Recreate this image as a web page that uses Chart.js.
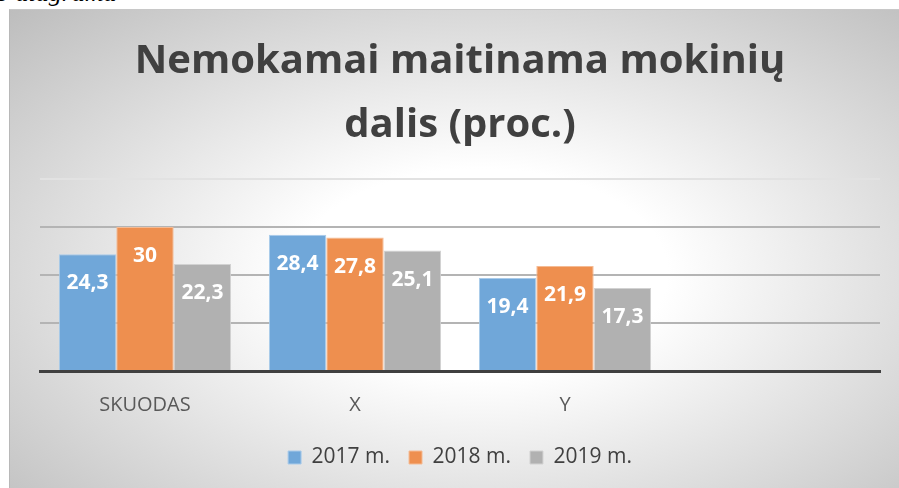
<!DOCTYPE html>
<html>
<head>
<meta charset="utf-8">
<script src="https://cdn.jsdelivr.net/npm/chart.js@4"></script>
<style>
	body { margin: 0; background: #fff; width: 899px; height: 488px; overflow: hidden; position: relative; }
	#caption { position: absolute; left: -4px; top: -22px; font: italic 26px "Liberation Serif", serif; color: #000; }
	#box {
		position: absolute; left: 9px; top: 9px; width: 890px; height: 479px;
		border-left: 1px solid #b8b8b8; border-top: 1px solid #c8c8c8; box-sizing: border-box;
		background: radial-gradient(ellipse farthest-corner at 53% 55%, #ffffff 0%, #ffffff 28%, #bdbdbd 100%);
	}
</style>
</head>
<body>
<div id="caption">o diagrama</div>
<div id="box"><canvas id="myChart"></canvas></div>
<script>
// DATA
const categories = ["SKUODAS", "X", "Y", ""];
const years = ["2017 m.", "2018 m.", "2019 m."];
const values2017 = [24.3, 28.4, 19.4, null];
const values2018 = [30, 27.8, 21.9, null];
const values2019 = [22.3, 25.1, 17.3, null];
const yTicks = [0, 10, 20, 30, 40];

// value labels inside the top of each bar
const barLabels = {
	id: "barLabels",
	afterDatasetsDraw(chart) {
		const ctx = chart.ctx;
		ctx.save();
		ctx.fillStyle = "#ffffff";
		ctx.font = "bold 21px 'Open Sans'";
		ctx.textAlign = "center";
		ctx.textBaseline = "middle";
		chart.data.datasets.forEach((ds, i) => {
			chart.getDatasetMeta(i).data.forEach((bar, j) => {
				const v = ds.data[j];
				if (v == null) return;
				ctx.fillText(String(v).replace(".", ","), bar.x, bar.y + 29);
			});
		});
		ctx.restore();
	},
};

const data = {
	labels: categories,
	datasets: [
		{ label: years[0], data: values2017, backgroundColor: "#70a7d9", borderColor: "#a9cbea" },
		{ label: years[1], data: values2018, backgroundColor: "#ee8f4f", borderColor: "#f5bb94" },
		{ label: years[2], data: values2019, backgroundColor: "#b1b1b1", borderColor: "#d2d2d2" },
	],
};

const config = {
	type: "bar",
	data: data,
	options: {
		responsive: true,
		maintainAspectRatio: false,
		animation: false,
		layout: { padding: { left: 30, right: 19, top: 0, bottom: 10 } },
		datasets: {
			bar: { borderWidth: 1, categoryPercentage: 0.82, barPercentage: 1 },
		},
		scales: {
			x: {
				grid: { display: false, drawTicks: false },
				border: { color: "#404040", width: 3 },
				ticks: { color: "#595959", font: { family: "Open Sans", size: 20 }, padding: 22 },
				afterFit: (s) => { s.height -= 11; },
			},
			y: {
				min: 0,
				max: 40,
				afterBuildTicks: (s) => { s.ticks = yTicks.map((v) => ({ value: v })); },
				ticks: { display: false },
				border: { display: false },
				grid: {
					drawTicks: false,
					lineWidth: 2,
					color: (c) => (c.tick && c.tick.value === 40 ? "#e2e2e2" : "#b4b4b4"),
				},
			},
		},
		plugins: {
			title: {
				display: true,
				text: ["Nemokamai maitinama mokinių", "dalis (proc.)"],
				color: "#404040",
				font: { family: "Open Sans", size: 40, weight: "bold", lineHeight: 1.6 },
				padding: { top: 20, bottom: 21 },
			},
			legend: {
				position: "bottom",
				labels: {
					color: "#404040",
					font: { family: "Open Sans", size: 21 },
					boxWidth: 13,
					boxHeight: 13,
					padding: 19,
				},
			},
			tooltip: { enabled: false },
		},
	},
	plugins: [barLabels],
};

var myChart = new Chart(document.getElementById("myChart"), config);
</script>
</body>
</html>
